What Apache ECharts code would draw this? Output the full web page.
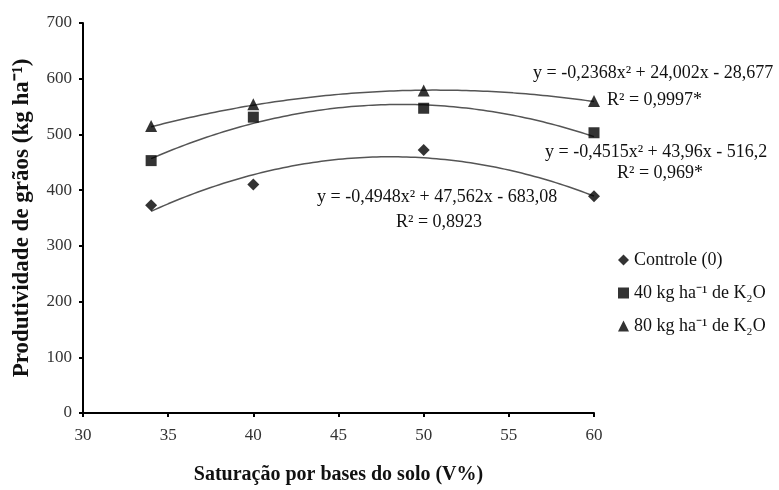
<!DOCTYPE html>
<html><head><meta charset="utf-8">
<script src="https://cdn.jsdelivr.net/npm/echarts@6/dist/echarts.min.js"></script>
<style>html,body{margin:0;padding:0;background:#fff}#c{width:779px;height:490px}</style>
</head><body><div id="c"></div>
<script>
const xValues = [34, 40, 50, 60];
const controle = [373, 410, 472, 389];
const k40 = [453, 531, 547, 503];
const k80 = [515, 554, 579, 560];
const seriesNames = ['Controle (0)', '40 kg ha\u207B\u00B9 de K\u2082O', '80 kg ha\u207B\u00B9 de K\u2082O'];
// Trend-line coefficients as printed on the chart (a, b, c for y = a x^2 + b x + c)
const coefControle = [-0.4948, 47.562, -683.08];
const coef40 = [-0.4515, 43.96, -516.2];
const coef80 = [-0.2368, 24.002, -28.677];
const trendRange = [34, 60];
const yTicks = [0, 700, 100];
const xTicks = [30, 60, 5];

function pairs(xs, ys){ return xs.map((x,i)=>[x, ys[i]]); }
function trend(c){
  const out = [];
  for (let x = trendRange[0]; x <= trendRange[1] + 1e-9; x += 0.25) out.push([x, c[0]*x*x + c[1]*x + c[2]]);
  return out;
}
const FONT = 'Liberation Serif';
const chart = echarts.init(document.getElementById('c'));
const lineStyle = {color:'#555', width:1.5};
const txt = (x, y, s) => ({type:'text', left:x, top:y, style:{text:s, font:'18px "Liberation Serif"', fill:'#111'}});
chart.setOption({
  animation:false,
  backgroundColor:'#fff',
  grid:{left:83, right:185, top:23, bottom:73},
  xAxis:{type:'value', min:xTicks[0], max:xTicks[1], interval:xTicks[2],
    axisLine:{lineStyle:{color:'#000', width:2}},
    axisTick:{show:true, length:4, lineStyle:{color:'#000', width:2}},
    splitLine:{show:false},
    axisLabel:{color:'#333', fontFamily:FONT, fontSize:17, margin:14},
    name:'Saturação por bases do solo (V%)', nameLocation:'middle', nameGap:52,
    nameTextStyle:{color:'#111', fontFamily:FONT, fontSize:20, fontWeight:'bold'}},
  yAxis:{type:'value', min:yTicks[0], max:yTicks[1], interval:yTicks[2],
    axisLine:{show:true, lineStyle:{color:'#000', width:2}},
    axisTick:{show:true, length:4, lineStyle:{color:'#000', width:2}},
    splitLine:{show:false},
    axisLabel:{color:'#333', fontFamily:FONT, fontSize:17, margin:11},
    name:'Produtividade de grãos (kg ha\u207B\u00B9)', nameLocation:'middle', nameGap:49, nameRotate:90,
    nameTextStyle:{color:'#111', fontFamily:FONT, fontSize:23, fontWeight:'bold'}},
  legend:{orient:'vertical', left:613, top:246, itemGap:15, itemWidth:11, itemHeight:11,
    data:seriesNames, textStyle:{color:'#111', fontFamily:FONT, fontSize:18}},
  series:[
    {type:'line', data:trend(coefControle), showSymbol:false, symbol:'none', lineStyle, silent:true, z:1},
    {type:'line', data:trend(coef40), showSymbol:false, symbol:'none', lineStyle, silent:true, z:1},
    {type:'line', data:trend(coef80), showSymbol:false, symbol:'none', lineStyle, silent:true, z:1},
    {name:seriesNames[0], type:'scatter', data:pairs(xValues, controle), symbol:'diamond', symbolSize:12, itemStyle:{color:'#000'}, z:3},
    {name:seriesNames[1], type:'scatter', data:pairs(xValues, k40), symbol:'rect', symbolSize:11, itemStyle:{color:'#000'}, z:3},
    {name:seriesNames[2], type:'scatter', data:pairs(xValues, k80), symbol:'triangle', symbolSize:12, itemStyle:{color:'#000'}, z:3}
  ],
  graphic:[
    txt(533, 64, 'y = -0,2368x\u00B2 + 24,002x - 28,677'),
    txt(607, 91, 'R\u00B2 = 0,9997*'),
    txt(545, 143, 'y = -0,4515x\u00B2 + 43,96x - 516,2'),
    txt(617, 164, 'R\u00B2 = 0,969*'),
    txt(317, 188, 'y = -0,4948x\u00B2 + 47,562x - 683,08'),
    txt(396, 213, 'R\u00B2 = 0,8923')
  ]
});
</script></body></html>
